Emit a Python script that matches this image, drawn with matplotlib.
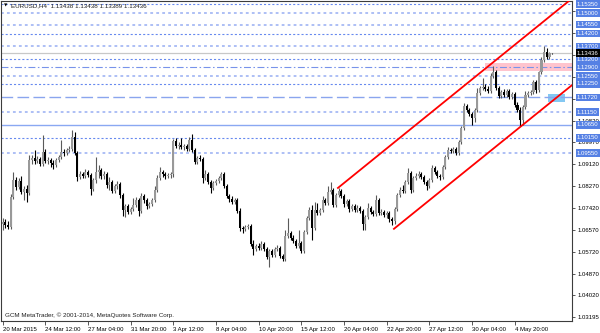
"""EURUSD H4 candlestick chart with channel and levels, MetaTrader style."""
import matplotlib

matplotlib.use("Agg")
import matplotlib.pyplot as plt
import matplotlib.transforms as mtransforms
import numpy as np
from matplotlib.patches import Rectangle

# H4 bars, 20 Mar 2015 00:00 onward
opens = [
    1.0680, 1.0688, 1.0676, 1.0668, 1.0785, 1.0851, 1.0824, 1.0847, 1.0805, 1.0816,
    1.0801, 1.0929, 1.0937, 1.0925, 1.0933, 1.0913, 1.0960, 1.0925, 1.0929, 1.0917,
    1.0910, 1.0929, 1.0941, 1.0960, 1.0956, 1.0968, 1.0972, 1.1018, 1.0956, 1.0863,
    1.0875, 1.0867, 1.0882, 1.0871, 1.0816, 1.0851, 1.0882, 1.0890, 1.0867, 1.0875,
    1.0832, 1.0843, 1.0808, 1.0828, 1.0836, 1.0793, 1.0735, 1.0750, 1.0727, 1.0738,
    1.0754, 1.0773, 1.0731, 1.0789, 1.0773, 1.0750, 1.0758, 1.0773, 1.0812, 1.0859,
    1.0882, 1.0875, 1.0867, 1.0871, 1.0875, 1.1003, 1.0983, 1.0987, 1.0980, 1.0983,
    1.0972, 1.1007, 1.0968, 1.0921, 1.0937, 1.0933, 1.0859, 1.0875, 1.0843, 1.0820,
    1.0840, 1.0847, 1.0859, 1.0875, 1.0828, 1.0789, 1.0777, 1.0766, 1.0773, 1.0731,
    1.0665, 1.0661, 1.0668, 1.0672, 1.0602, 1.0583, 1.0595, 1.0587, 1.0602, 1.0583,
    1.0552, 1.0575, 1.0560, 1.0583, 1.0587, 1.0556, 1.0544, 1.0633, 1.0645, 1.0626,
    1.0614, 1.0595, 1.0606, 1.0575, 1.0649, 1.0703, 1.0735, 1.0665, 1.0735, 1.0723,
    1.0735, 1.0773, 1.0762, 1.0805, 1.0812, 1.0754, 1.0793, 1.0808, 1.0789, 1.0758,
    1.0770, 1.0738, 1.0750, 1.0735, 1.0742, 1.0731, 1.0680, 1.0707, 1.0742, 1.0727,
    1.0719, 1.0773, 1.0723, 1.0727, 1.0715, 1.0723, 1.0700, 1.0692, 1.0738, 1.0793,
    1.0812, 1.0808, 1.0843, 1.0878, 1.0812, 1.0859, 1.0867, 1.0875, 1.0863, 1.0843,
    1.0828, 1.0851, 1.0898, 1.0882, 1.0867, 1.0863, 1.0902, 1.0941, 1.0968, 1.0964,
    1.0972, 1.0956, 1.0999, 1.1053, 1.1139, 1.1123, 1.1108, 1.1092, 1.1123, 1.1189,
    1.1209, 1.1213, 1.1205, 1.1197, 1.1256, 1.1271, 1.1209, 1.1178, 1.1193, 1.1182,
    1.1197, 1.1174, 1.1185, 1.1143, 1.1123, 1.1084, 1.1135, 1.1182, 1.1189, 1.1193,
    1.1232, 1.1201, 1.1271, 1.1318, 1.1349, 1.1329, 1.13438,
]
highs = [
    1.0703, 1.0700, 1.0692, 1.0797, 1.0882, 1.0863, 1.0859, 1.0867, 1.0828, 1.0832,
    1.0948, 1.0948, 1.0968, 1.0945, 1.0941, 1.1026, 1.0972, 1.0941, 1.0937, 1.0929,
    1.0937, 1.0948, 1.1007, 1.0972, 1.0976, 1.0983, 1.1046, 1.1038, 1.0964, 1.0886,
    1.0882, 1.0894, 1.0890, 1.0878, 1.0859, 1.0941, 1.0910, 1.0898, 1.0886, 1.0882,
    1.0863, 1.0851, 1.0836, 1.0847, 1.0843, 1.0801, 1.0758, 1.0758, 1.0746, 1.0781,
    1.0785, 1.0781, 1.0801, 1.0797, 1.0781, 1.0766, 1.0781, 1.0828, 1.0871, 1.0902,
    1.0890, 1.0882, 1.0878, 1.0882, 1.1011, 1.1014, 1.0999, 1.1014, 1.0991, 1.0991,
    1.1018, 1.1030, 1.0976, 1.0945, 1.0948, 1.0941, 1.0890, 1.0882, 1.0851, 1.0847,
    1.0855, 1.0867, 1.0882, 1.0882, 1.0836, 1.0797, 1.0789, 1.0781, 1.0781, 1.0742,
    1.0672, 1.0676, 1.0680, 1.0680, 1.0618, 1.0602, 1.0606, 1.0614, 1.0610, 1.0591,
    1.0583, 1.0583, 1.0591, 1.0598, 1.0595, 1.0563, 1.0657, 1.0703, 1.0653, 1.0637,
    1.0622, 1.0657, 1.0614, 1.0657, 1.0711, 1.0746, 1.0754, 1.0766, 1.0762, 1.0742,
    1.0789, 1.0781, 1.0828, 1.0843, 1.0820, 1.0801, 1.0820, 1.0816, 1.0797, 1.0777,
    1.0777, 1.0758, 1.0758, 1.0754, 1.0750, 1.0738, 1.0715, 1.0762, 1.0750, 1.0735,
    1.0793, 1.0781, 1.0738, 1.0735, 1.0731, 1.0731, 1.0707, 1.0746, 1.0801, 1.0824,
    1.0832, 1.0851, 1.0898, 1.0886, 1.0867, 1.0878, 1.0886, 1.0882, 1.0871, 1.0851,
    1.0859, 1.0910, 1.0906, 1.0890, 1.0875, 1.0910, 1.0948, 1.0980, 1.0976, 1.0980,
    1.0980, 1.1007, 1.1061, 1.1151, 1.1147, 1.1131, 1.1116, 1.1131, 1.1209, 1.1217,
    1.1248, 1.1224, 1.1217, 1.1267, 1.1294, 1.1279, 1.1217, 1.1201, 1.1205, 1.1205,
    1.1205, 1.1193, 1.1193, 1.1154, 1.1135, 1.1143, 1.1197, 1.1197, 1.1201, 1.1240,
    1.1240, 1.1275, 1.1329, 1.1372, 1.1364, 1.1349, 1.13438,
]
lows = [
    1.0657, 1.0665, 1.0661, 1.0661, 1.0777, 1.0812, 1.0816, 1.0797, 1.0773, 1.0766,
    1.0793, 1.0913, 1.0913, 1.0917, 1.0906, 1.0906, 1.0917, 1.0913, 1.0902, 1.0894,
    1.0902, 1.0921, 1.0933, 1.0945, 1.0948, 1.0960, 1.0964, 1.0948, 1.0847, 1.0855,
    1.0859, 1.0859, 1.0863, 1.0793, 1.0808, 1.0840, 1.0859, 1.0855, 1.0855, 1.0820,
    1.0812, 1.0801, 1.0801, 1.0816, 1.0781, 1.0711, 1.0707, 1.0719, 1.0719, 1.0731,
    1.0746, 1.0711, 1.0723, 1.0762, 1.0738, 1.0742, 1.0750, 1.0766, 1.0805, 1.0851,
    1.0863, 1.0855, 1.0859, 1.0859, 1.0863, 1.0976, 1.0972, 1.0972, 1.0968, 1.0964,
    1.0964, 1.0960, 1.0913, 1.0913, 1.0925, 1.0840, 1.0851, 1.0836, 1.0801, 1.0812,
    1.0832, 1.0840, 1.0851, 1.0820, 1.0781, 1.0766, 1.0758, 1.0758, 1.0723, 1.0653,
    1.0645, 1.0653, 1.0661, 1.0595, 1.0560, 1.0575, 1.0579, 1.0579, 1.0575, 1.0544,
    1.0513, 1.0552, 1.0552, 1.0575, 1.0548, 1.0536, 1.0536, 1.0626, 1.0618, 1.0606,
    1.0587, 1.0587, 1.0567, 1.0567, 1.0641, 1.0696, 1.0618, 1.0657, 1.0715, 1.0715,
    1.0727, 1.0754, 1.0754, 1.0797, 1.0746, 1.0746, 1.0785, 1.0781, 1.0746, 1.0750,
    1.0727, 1.0731, 1.0727, 1.0727, 1.0723, 1.0657, 1.0657, 1.0700, 1.0719, 1.0711,
    1.0711, 1.0715, 1.0715, 1.0707, 1.0703, 1.0688, 1.0676, 1.0680, 1.0731, 1.0785,
    1.0801, 1.0801, 1.0836, 1.0801, 1.0805, 1.0851, 1.0859, 1.0855, 1.0836, 1.0812,
    1.0820, 1.0843, 1.0875, 1.0859, 1.0851, 1.0855, 1.0894, 1.0933, 1.0956, 1.0956,
    1.0948, 1.0948, 1.0991, 1.1046, 1.1116, 1.1100, 1.1065, 1.1077, 1.1116, 1.1182,
    1.1201, 1.1197, 1.1189, 1.1189, 1.1248, 1.1201, 1.1170, 1.1170, 1.1174, 1.1174,
    1.1166, 1.1166, 1.1135, 1.1116, 1.1061, 1.1065, 1.1127, 1.1174, 1.1182, 1.1185,
    1.1189, 1.1193, 1.1263, 1.1310, 1.1322, 1.1322, 1.13389,
]
closes = [
    1.0688, 1.0676, 1.0668, 1.0785, 1.0851, 1.0824, 1.0847, 1.0805, 1.0816, 1.0801,
    1.0929, 1.0937, 1.0925, 1.0933, 1.0913, 1.0960, 1.0925, 1.0929, 1.0917, 1.0910,
    1.0929, 1.0941, 1.0960, 1.0956, 1.0968, 1.0972, 1.1018, 1.0956, 1.0863, 1.0875,
    1.0867, 1.0882, 1.0871, 1.0816, 1.0851, 1.0882, 1.0890, 1.0867, 1.0875, 1.0832,
    1.0843, 1.0808, 1.0828, 1.0836, 1.0793, 1.0735, 1.0750, 1.0727, 1.0738, 1.0754,
    1.0773, 1.0731, 1.0789, 1.0773, 1.0750, 1.0758, 1.0773, 1.0812, 1.0859, 1.0882,
    1.0875, 1.0867, 1.0871, 1.0875, 1.1003, 1.0983, 1.0987, 1.0980, 1.0983, 1.0972,
    1.1007, 1.0968, 1.0921, 1.0937, 1.0933, 1.0859, 1.0875, 1.0843, 1.0820, 1.0840,
    1.0847, 1.0859, 1.0875, 1.0828, 1.0789, 1.0777, 1.0766, 1.0773, 1.0731, 1.0665,
    1.0661, 1.0668, 1.0672, 1.0602, 1.0583, 1.0595, 1.0587, 1.0602, 1.0583, 1.0552,
    1.0575, 1.0560, 1.0583, 1.0587, 1.0556, 1.0544, 1.0633, 1.0645, 1.0626, 1.0614,
    1.0595, 1.0606, 1.0575, 1.0649, 1.0703, 1.0735, 1.0665, 1.0735, 1.0723, 1.0735,
    1.0773, 1.0762, 1.0805, 1.0812, 1.0754, 1.0793, 1.0808, 1.0789, 1.0758, 1.0770,
    1.0738, 1.0750, 1.0735, 1.0742, 1.0731, 1.0680, 1.0707, 1.0742, 1.0727, 1.0719,
    1.0773, 1.0723, 1.0727, 1.0715, 1.0723, 1.0700, 1.0692, 1.0738, 1.0793, 1.0812,
    1.0808, 1.0843, 1.0878, 1.0812, 1.0859, 1.0867, 1.0875, 1.0863, 1.0843, 1.0828,
    1.0851, 1.0898, 1.0882, 1.0867, 1.0863, 1.0902, 1.0941, 1.0968, 1.0964, 1.0972,
    1.0956, 1.0999, 1.1053, 1.1139, 1.1123, 1.1108, 1.1092, 1.1123, 1.1189, 1.1209,
    1.1213, 1.1205, 1.1197, 1.1256, 1.1271, 1.1209, 1.1178, 1.1193, 1.1182, 1.1197,
    1.1174, 1.1185, 1.1143, 1.1123, 1.1084, 1.1135, 1.1182, 1.1189, 1.1193, 1.1232,
    1.1201, 1.1271, 1.1318, 1.1349, 1.1329, 1.1345, 1.13436,
]

time_labels = ["20 Mar 2015", "24 Mar 12:00", "27 Mar 04:00", "31 Mar 20:00", "3 Apr 12:00",
               "8 Apr 04:00", "10 Apr 20:00", "15 Apr 12:00", "20 Apr 04:00", "22 Apr 20:00",
               "27 Apr 12:00", "30 Apr 04:00", "4 May 20:00"]
time_label_bars = [0, 16, 32, 48, 64, 80, 96, 112, 128, 144, 160, 176, 192]

# regular scale ticks; the upper ones sit behind level labels, so only marks are drawn
price_ticks = [1.03195, 1.04020, 1.04870, 1.05720, 1.06570, 1.07420, 1.08270, 1.09120,
               1.09970, 1.10820, 1.11670, 1.12520, 1.13370, 1.14220, 1.15070]
price_tick_shown = [True] * 10 + [False] * 5

level_prices = [1.15350, 1.15000, 1.14550, 1.14200, 1.13700, 1.13200, 1.12900,
                1.12550, 1.12250, 1.11720, 1.11150, 1.10650, 1.10150, 1.09550]
level_kinds = ["dash", "dot", "dot", "dash", "dot", "dash", "dashdot",
               "dot", "dash", "long", "dot", "solid", "dash", "dot"]
last_price = 1.13436

upper_channel_bars = [125.7, 213.5]
upper_channel_prices = [1.0820, 1.1557]
lower_channel_bars = [146.7, 213.5]
lower_channel_prices = [1.0661, 1.1220]

pink_zone_bars = [180.8, 213.5]
pink_zone_prices = [1.12757, 1.13045]
blue_zone_bars = [204.5, 210.8]
blue_zone_prices = [1.11551, 1.11851]

header = "EURUSD,H4  1.13438 1.13438 1.13389 1.13436"
footer = "GCM MetaTrader, \u00a9 2001-2014, MetaQuotes Software Corp."

LINE_STYLES = {
    "dash": dict(color="#6689ef", lw=0.8, dashes=(1.5, 1.5)),
    "dot": dict(color="#adbff5", lw=1.4, dashes=(2.0, 2.3)),
    "dashdot": dict(color="#7893ea", lw=0.8, dashes=(5.0, 1.8, 1.1, 1.8)),
    "long": dict(color="#8aa5ee", lw=1.0, dashes=(8.4, 3.1)),
    "solid": dict(color="#8aa8f2", lw=1.0),
}

plt.rcParams.update({
    "font.family": ["Liberation Sans", "DejaVu Sans"],
    "lines.scale_dashes": False,
})

fig = plt.figure(figsize=(6, 3.33), dpi=100)
ax = fig.add_axes([1 / 600, 12 / 333, 571 / 600, 320.5 / 333])
ax.set_xlim(-0.64, 213.46)
ax.set_ylim(1.03026, 1.15487)

o = np.array(opens)
h = np.array(highs)
l = np.array(lows)
c = np.array(closes)
x = np.arange(len(c))
up = c >= o

# zones
ax.add_patch(Rectangle((pink_zone_bars[0], pink_zone_prices[0]), pink_zone_bars[1] - pink_zone_bars[0],
                       pink_zone_prices[1] - pink_zone_prices[0], fc="#ffc4cd", ec="none", zorder=1))
ax.add_patch(Rectangle((blue_zone_bars[0], blue_zone_prices[0]), blue_zone_bars[1] - blue_zone_bars[0],
                       blue_zone_prices[1] - blue_zone_prices[0], fc="#84c8f2", ec="none", zorder=1))

# horizontal levels
for price, kind in zip(level_prices, level_kinds):
    st = LINE_STYLES[kind]
    if "dashes" in st:
        ax.axhline(price, color=st["color"], lw=st["lw"], dashes=st["dashes"], zorder=1.5)
    else:
        ax.axhline(price, color=st["color"], lw=st["lw"], zorder=1.5)
ax.axhline(last_price, color="#c8c8c8", lw=0.9, zorder=1.5)

# candles
wick_colors = np.where(up, "#5a5a5a", "#000000")
ax.vlines(x, l, h, colors=wick_colors, lw=0.8, zorder=2.9)
body_h = np.maximum(np.abs(c - o), 0.00012)
body_b = np.minimum(o, c)
ax.bar(x[up], body_h[up], bottom=body_b[up], width=0.8, color="#999999", linewidth=0, zorder=3)
ax.bar(x[~up], body_h[~up], bottom=body_b[~up], width=0.8, color="#000000", linewidth=0, zorder=3)

# channel
ax.plot(upper_channel_bars, upper_channel_prices, color="#ff0000", lw=1.3, zorder=4)
ax.plot(lower_channel_bars, lower_channel_prices, color="#ff0000", lw=1.3, zorder=4)

# axes frame
for side in ("left", "right", "bottom", "top"):
    ax.spines[side].set_color("#3c3c3c")
    ax.spines[side].set_linewidth(0.8)

ax.set_xticks(time_label_bars)
ax.set_xticklabels(time_labels)
for lbl in ax.get_xticklabels():
    lbl.set_horizontalalignment("left")
ax.tick_params(axis="x", length=3, width=0.6, pad=1.0, labelsize=4.3, color="#3c3c3c")

ax.yaxis.tick_right()
ax.set_yticks(price_ticks)
ax.set_yticklabels([f"{p:.5f}" if shown else "" for p, shown in zip(price_ticks, price_tick_shown)])
ax.tick_params(axis="y", length=2.5, width=0.6, pad=1.5, labelsize=4.3, color="#3c3c3c")

# price labels for levels
trans = mtransforms.blended_transform_factory(ax.transAxes, ax.transData)
for price in level_prices:
    ax.text(1.0 + 5 / 571, price, f"{price:.5f}", transform=trans, ha="left", va="center",
            fontsize=4.3, color="white", clip_on=False, zorder=6,
            bbox=dict(boxstyle="square,pad=0.22", fc="#5580e4", ec="none"))
ax.text(1.0 + 5 / 571, last_price, f"{last_price:.5f}", transform=trans, ha="left", va="center",
        fontsize=4.3, color="white", clip_on=False, zorder=7,
        bbox=dict(boxstyle="square,pad=0.22", fc="#000000", ec="none"))

fig.text(4 / 600, 1 - 5.5 / 333, "\u25bc", fontsize=3.2, family="DejaVu Sans", va="center", ha="left")
fig.text(11 / 600, 1 - 5.5 / 333, header, fontsize=4.5, va="center", ha="left", color="#202020")
ax.text(4 / 571, 6 / 320.5, footer, transform=ax.transAxes, fontsize=4.5, va="center", ha="left",
        color="#202020")

fig.savefig("out.png", dpi=100)
